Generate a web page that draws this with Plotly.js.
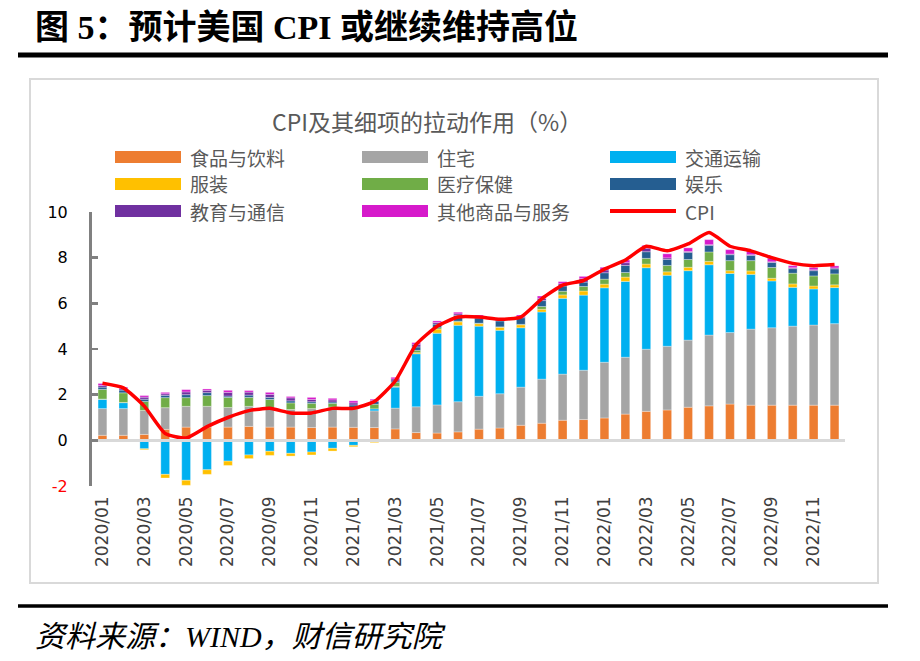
<!DOCTYPE html>
<html>
<head>
<meta charset="utf-8">
<script src="https://cdn.plot.ly/plotly-3.0.1.min.js"></script>
<style>html,body{margin:0;padding:0;background:#fff;}#chart{width:920px;height:661px;}</style>
</head>
<body>
<div id="chart"></div>
<script>
// ---- data ----
var months = ["2020/01","2020/02","2020/03","2020/04","2020/05","2020/06","2020/07","2020/08","2020/09","2020/10","2020/11","2020/12",
              "2021/01","2021/02","2021/03","2021/04","2021/05","2021/06","2021/07","2021/08","2021/09","2021/10","2021/11","2021/12",
              "2022/01","2022/02","2022/03","2022/04","2022/05","2022/06","2022/07","2022/08","2022/09","2022/10","2022/11","2022/12"];
var seriesNames = ["食品与饮料","住宅","交通运输","服装","医疗保健","娱乐","教育与通信","其他商品与服务"];
var food = [0.22,0.22,0.26,0.48,0.58,0.58, 0.58,0.61,0.58,0.58,0.56,0.58, 0.57,0.56,0.50,0.34,0.32,0.37, 0.49,0.54,0.66,0.75,0.88,0.91, 0.98,1.15,1.27,1.33,1.45,1.51, 1.59,1.54,1.54,1.54,1.54,1.54];
var housing = [1.17,1.17,1.05,0.95,0.91,0.91, 0.86,0.88,0.80,0.77,0.83,0.88, 0.79,0.73,0.91,1.13,1.23,1.32, 1.44,1.50,1.67,1.93,2.02,2.16, 2.44,2.49,2.72,2.79,2.94,3.10, 3.13,3.33,3.39,3.46,3.51,3.57];
var transport = [0.41,0.26,-0.37,-1.49,-1.75,-1.29, -0.91,-0.64,-0.48,-0.57,-0.51,-0.35, -0.22,0.09,0.92,2.32,3.14,3.35, 3.07,2.78,2.60,2.94,3.32,3.29, 3.26,3.32,3.57,3.11,3.04,3.08, 2.59,2.40,2.05,1.70,1.58,1.58];
var apparel = [0.01,0.01,-0.04,-0.16,-0.22,-0.20, -0.19,-0.16,-0.18,-0.12,-0.13,-0.12, -0.06,-0.10,0.03,0.05,0.18,0.15, 0.11,0.13,0.13,0.12,0.15,0.18, 0.16,0.19,0.16,0.15,0.15,0.15, 0.12,0.15,0.12,0.15,0.13,0.12];
var medical = [0.42,0.42,0.39,0.44,0.38,0.47, 0.44,0.39,0.41,0.29,0.23,0.16, 0.04,0.20,0.18,0.10,0.06,0.03, 0.02,0.02,0.02,0.12,0.16,0.20, 0.22,0.20,0.25,0.28,0.34,0.41, 0.44,0.45,0.47,0.47,0.44,0.48];
var recreation = [0.10,0.12,0.10,0.10,0.13,0.13, 0.06,0.10,0.09,0.09,0.07,0.06, 0.15,0.12,0.06,0.15,0.16,0.25, 0.23,0.26,0.29,0.26,0.23,0.19, 0.28,0.31,0.29,0.26,0.31,0.29, 0.26,0.23,0.22,0.20,0.23,0.22];
var education = [0.07,0.06,0.09,0.07,0.12,0.10, 0.16,0.13,0.13,0.13,0.10,0.09, 0.09,0.04,0.09,0.12,0.07,0.07, 0.06,0.04,0.05,0.10,0.10,0.15, 0.12,0.12,0.15,0.07,0.04,0.03, 0.03,0.03,0.03,0.04,0.04,0.04];
var other = [0.09,0.07,0.07,0.06,0.10,0.06, 0.09,0.07,0.09,0.06,0.09,0.07, 0.09,0.06,0.07,0.07,0.07,0.07, 0.07,0.09,0.07,0.10,0.09,0.10, 0.12,0.12,0.13,0.18,0.16,0.22, 0.19,0.16,0.16,0.09,0.10,0.09];
var cpi = [2.5,2.3,1.5,0.3,0.1,0.6, 1.0,1.3,1.4,1.2,1.2,1.4, 1.4,1.7,2.6,4.2,5.0,5.4, 5.4,5.3,5.4,6.2,6.8,7.0, 7.5,7.9,8.5,8.3,8.6,9.1, 8.5,8.3,8.0,7.75,7.65,7.7];
var xTickLabels = months.filter(function(m, i){ return i % 2 === 0; });
var yTickVals = [-2,0,2,4,6,8,10];
var yTickText = ['<span style="color:#FF0000">-2</span>','0','2','4','6','8','10'];

// ---- style ----
var colors = ["#ED7D31","#A5A5A5","#00B0F0","#FFC000","#70AD47","#255E91","#7030A0","#D61ACB"];
var seriesData = [food, housing, transport, apparel, medical, recreation, education, other];
var CJK = '"Noto Sans CJK SC", "Noto Sans", sans-serif';

var L = 92, R = 845, T = 212, B = 486;
function px(x){ return (x - L) / (R - L); }
function py(y){ return (B - y) / (B - T); }

var traces = seriesData.map(function(d, i){
  return {type:'bar', name:seriesNames[i], x:months, y:d,
          marker:{color:colors[i], line:{color:'rgba(255,255,255,0.5)', width:0.6}},
          showlegend:false, hoverinfo:'name+y'};
});
traces.push({type:'scatter', mode:'lines', name:'CPI', x:months, y:cpi,
             line:{color:'#FF0000', width:3.5, shape:'spline', smoothing:0.5},
             showlegend:false});

var shapes = [
  {type:'line', xref:'paper', yref:'paper', x0:px(18), x1:px(888), y0:py(55), y1:py(55), line:{color:'#000', width:5}},
  {type:'line', xref:'paper', yref:'paper', x0:px(18), x1:px(888), y0:py(606), y1:py(606), line:{color:'#000', width:3.5}},
  {type:'rect', xref:'paper', yref:'paper', x0:px(30), x1:px(878), y0:py(583), y1:py(79), line:{color:'#D9D9D9', width:2}, layer:'below'}
];
var annotations = [
  {xref:'paper', yref:'paper', x:px(33), y:py(28), xanchor:'left', yanchor:'middle', showarrow:false,
   text:'<b>图 5：预计美国 CPI 或继续维持高位</b>', font:{family:'"Liberation Serif", "Noto Sans CJK SC", serif', size:34, color:'#000'}},
  {xref:'paper', yref:'paper', x:px(33), y:py(636), xanchor:'left', yanchor:'middle', showarrow:false,
   text:'<i>资料来源：WIND，财信研究院</i>', font:{family:'"Liberation Serif", "Noto Sans CJK SC", serif', size:30, color:'#000'}},
  {xref:'paper', yref:'paper', x:px(427), y:py(121), xanchor:'center', yanchor:'middle', showarrow:false,
   text:'CPI及其细项的拉动作用（%）', font:{family:CJK, size:23, color:'#595959'}}
];

// legend (3 columns)
var legCols = [115, 362, 610], legRows = [157, 184, 211];
var legNames = seriesNames.concat(['CPI']);
legNames.forEach(function(n, i){
  var cx = legCols[i % 3], cy = legRows[Math.floor(i / 3)];
  if (i < 8) {
    shapes.push({type:'rect', xref:'paper', yref:'paper', x0:px(cx), x1:px(cx + 66), y0:py(cy + 6), y1:py(cy - 6),
                 fillcolor:colors[i], line:{width:0}});
  } else {
    shapes.push({type:'line', xref:'paper', yref:'paper', x0:px(cx), x1:px(cx + 66), y0:py(cy), y1:py(cy),
                 line:{color:'#FF0000', width:4}});
  }
  annotations.push({xref:'paper', yref:'paper', x:px(cx + 74), y:py(cy), xanchor:'left', yanchor:'middle', showarrow:false,
                    borderpad:0, text:n, font:{family:CJK, size:19, color:'#595959'}});
});

var layout = {
  width:920, height:661,
  margin:{l:L, r:920 - R, t:T, b:661 - B, pad:0},
  paper_bgcolor:'#fff', plot_bgcolor:'rgba(0,0,0,0)',
  barmode:'relative', bargap:0.58,
  showlegend:false,
  xaxis:{type:'category', tickmode:'array', tickvals:xTickLabels, ticktext:xTickLabels,
         tickangle:-90, ticks:'', showline:false, showgrid:false, zeroline:false,
         ticklabelstandoff:6,
         tickfont:{family:'"DejaVu Sans", sans-serif', size:17, color:'#404040'}},
  yaxis:{range:[-2,10], tickmode:'array', tickvals:yTickVals, ticktext:yTickText,
         showgrid:false, showline:true, linecolor:'#808080', linewidth:3,
         ticks:'inside', ticklen:6, tickwidth:2.5, tickcolor:'#808080',
         zeroline:true, zerolinecolor:'#D9D9D9', zerolinewidth:3, zerolinelayer:'above traces',
         ticklabelstandoff:18,
         tickfont:{family:'"DejaVu Sans", sans-serif', size:16, color:'#000'}},
  shapes:shapes, annotations:annotations,
  font:{family:CJK}
};

Plotly.newPlot('chart', traces, layout, {displayModeBar:false, staticPlot:true});
</script>
</body>
</html>
